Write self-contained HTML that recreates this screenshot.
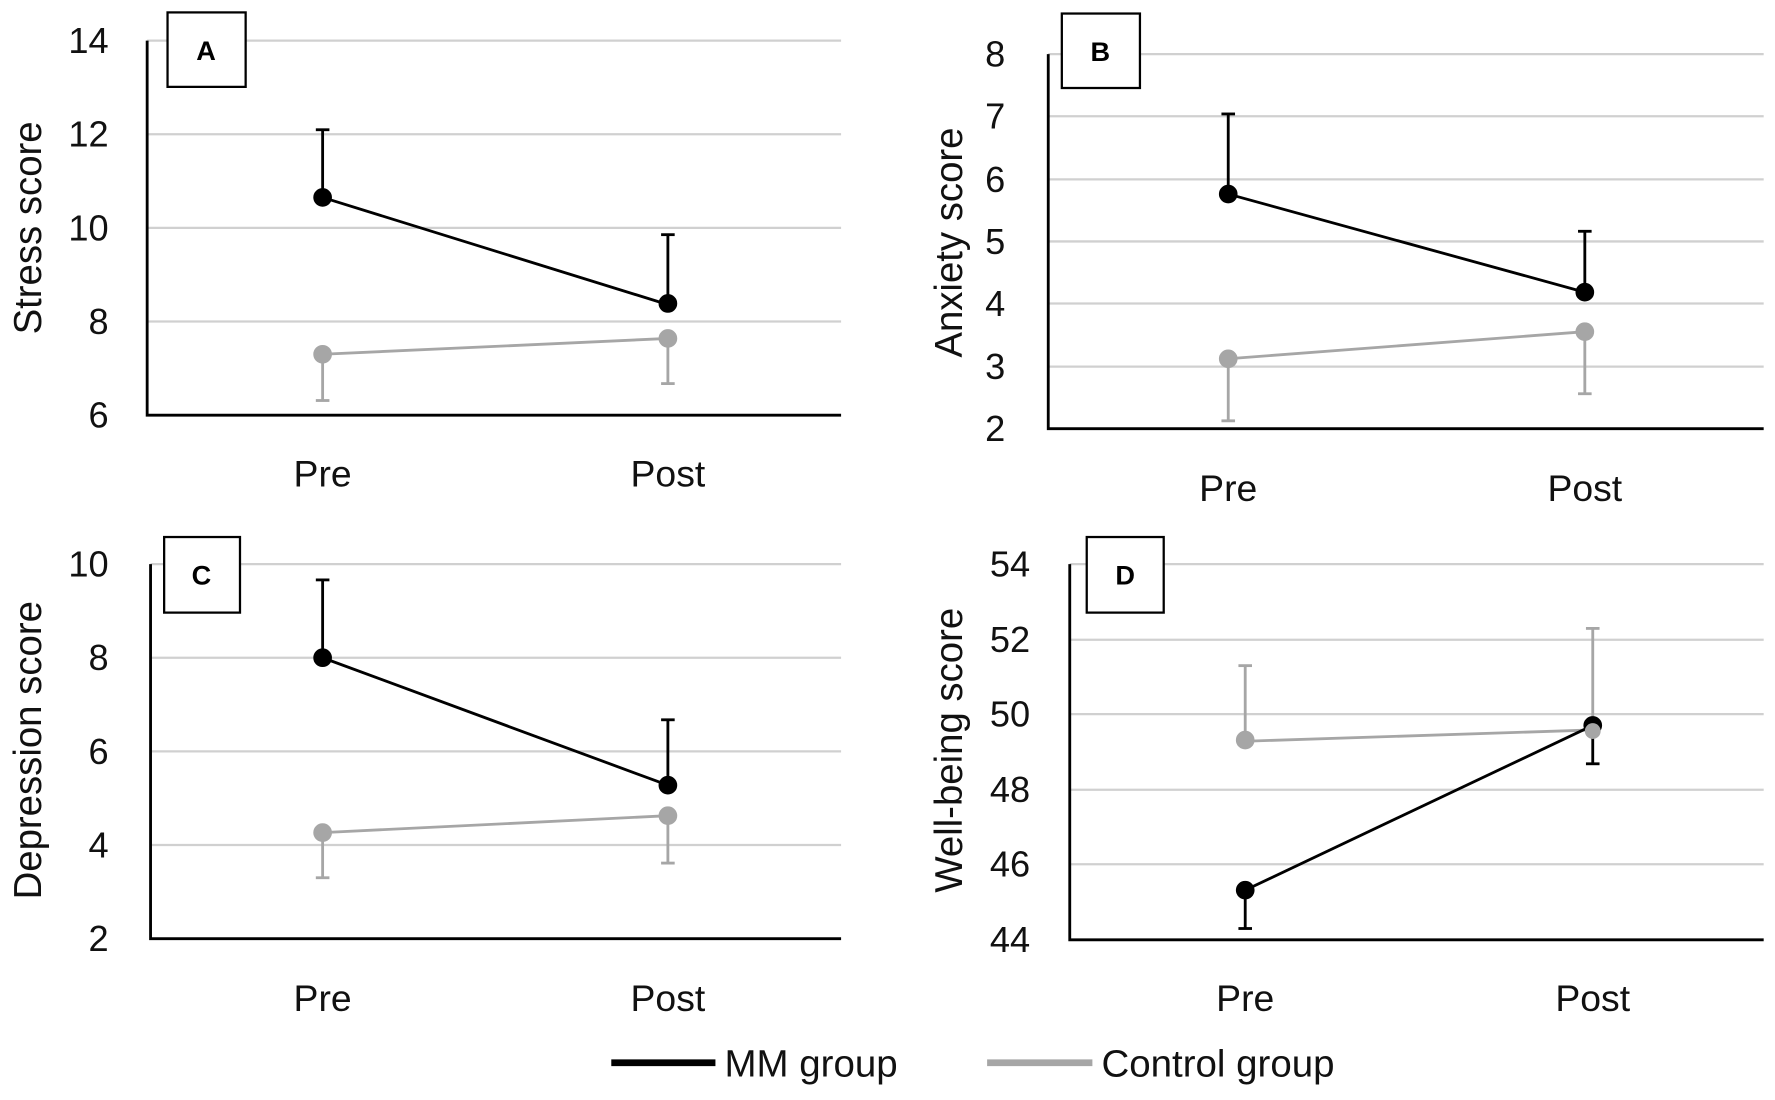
<!DOCTYPE html>
<html><head><meta charset="utf-8"><style>html,body{margin:0;padding:0;background:#fff}svg{display:block}</style></head>
<body>
<svg width="1775" height="1100" viewBox="0 0 1568 975" preserveAspectRatio="none" xmlns="http://www.w3.org/2000/svg" font-family="'Liberation Sans', sans-serif">
<rect width="1568" height="975" fill="#fff"/>
<g stroke="#d0d0d0" stroke-width="2">
<line x1="130" x2="743" y1="36" y2="36"/><line x1="130" x2="743" y1="119" y2="119"/><line x1="130" x2="743" y1="202" y2="202"/><line x1="130" x2="743" y1="285" y2="285"/>
<line x1="926" x2="1558" y1="48" y2="48"/><line x1="926" x2="1558" y1="103" y2="103"/><line x1="926" x2="1558" y1="159" y2="159"/><line x1="926" x2="1558" y1="214" y2="214"/><line x1="926" x2="1558" y1="269" y2="269"/><line x1="926" x2="1558" y1="325" y2="325"/>
<line x1="133" x2="743" y1="500" y2="500"/><line x1="133" x2="743" y1="583" y2="583"/><line x1="133" x2="743" y1="666" y2="666"/><line x1="133" x2="743" y1="749" y2="749"/>
<line x1="945" x2="1558" y1="500" y2="500"/><line x1="945" x2="1558" y1="567" y2="567"/><line x1="945" x2="1558" y1="633" y2="633"/><line x1="945" x2="1558" y1="700" y2="700"/><line x1="945" x2="1558" y1="766" y2="766"/>
</g>
<g stroke="#000" stroke-width="2.5" fill="none">
<polyline points="130,36 130,368 743,368"/>
<polyline points="926,48 926,380 1558,380"/>
<polyline points="133,500 133,832 743,832"/>
<polyline points="945,500 945,833 1558,833"/>
</g>
<g fill="#fff" stroke="#000" stroke-width="2">
<rect x="148" y="11" width="69" height="66"/><rect x="938" y="12" width="69" height="66"/>
<rect x="145" y="476" width="67" height="67"/><rect x="960" y="476" width="68" height="67"/>
</g>
<g font-weight="bold" font-size="24" text-anchor="middle">
<text x="182" y="53">A</text><text x="972" y="54">B</text><text x="178" y="518">C</text><text x="994" y="518">D</text>
</g>
<g font-size="32" text-anchor="end" fill="#111">
<text x="96" y="47">14</text><text x="96" y="130">12</text><text x="96" y="213">10</text><text x="96" y="296">8</text><text x="96" y="379">6</text>
<text x="888" y="59">8</text><text x="888" y="114">7</text><text x="888" y="170">6</text><text x="888" y="225">5</text><text x="888" y="280">4</text><text x="888" y="336">3</text><text x="888" y="391">2</text>
<text x="96" y="511">10</text><text x="96" y="594">8</text><text x="96" y="677">6</text><text x="96" y="760">4</text><text x="96" y="843">2</text>
<text x="910" y="511">54</text><text x="910" y="578">52</text><text x="910" y="644">50</text><text x="910" y="711">48</text><text x="910" y="777">46</text><text x="910" y="844">44</text>
</g>
<g font-size="33" text-anchor="middle" fill="#111">
<text x="285" y="431">Pre</text><text x="590" y="431">Post</text>
<text x="1085" y="444">Pre</text><text x="1400" y="444">Post</text>
<text x="285" y="896">Pre</text><text x="590" y="896">Post</text>
<text x="1100" y="896">Pre</text><text x="1407" y="896">Post</text>
</g>
<g font-size="34" text-anchor="middle" fill="#111">
<text transform="translate(36,202) rotate(-90)">Stress score</text>
<text transform="translate(850,215) rotate(-90)">Anxiety score</text>
<text transform="translate(36,665) rotate(-90)">Depression score</text>
<text transform="translate(850,665) rotate(-90)">Well-being score</text>
</g>
<g stroke="#a6a6a6" stroke-width="2.5" fill="#a6a6a6">
<line x1="285" y1="314" x2="590" y2="300"/><line x1="285" y1="314" x2="285" y2="355"/><line x1="279" y1="355" x2="291" y2="355"/><line x1="590" y1="300" x2="590" y2="340"/><line x1="584" y1="340" x2="596" y2="340"/>
<circle cx="285" cy="314" r="7"/><circle cx="590" cy="300" r="7"/>
<line x1="1085" y1="318" x2="1400" y2="294"/><line x1="1085" y1="318" x2="1085" y2="373"/><line x1="1079" y1="373" x2="1091" y2="373"/><line x1="1400" y1="294" x2="1400" y2="349"/><line x1="1394" y1="349" x2="1406" y2="349"/>
<circle cx="1085" cy="318" r="7"/><circle cx="1400" cy="294" r="7"/>
<line x1="285" y1="738" x2="590" y2="723"/><line x1="285" y1="738" x2="285" y2="778"/><line x1="279" y1="778" x2="291" y2="778"/><line x1="590" y1="723" x2="590" y2="765"/><line x1="584" y1="765" x2="596" y2="765"/>
<circle cx="285" cy="738" r="7"/><circle cx="590" cy="723" r="7"/>
<line x1="1100" y1="657" x2="1407" y2="647"/><line x1="1100" y1="657" x2="1100" y2="590"/><line x1="1094" y1="590" x2="1106" y2="590"/><line x1="1407" y1="647" x2="1407" y2="557"/><line x1="1401" y1="557" x2="1413" y2="557"/>
<circle cx="1100" cy="656" r="7"/>
</g>
<g stroke="#000" stroke-width="2.5" fill="#000">
<line x1="285" y1="175" x2="590" y2="270"/><line x1="285" y1="175" x2="285" y2="115"/><line x1="279" y1="115" x2="291" y2="115"/><line x1="590" y1="270" x2="590" y2="208"/><line x1="584" y1="208" x2="596" y2="208"/>
<circle cx="285" cy="175" r="7"/><circle cx="590" cy="269" r="7"/>
<line x1="1085" y1="172" x2="1400" y2="259"/><line x1="1085" y1="172" x2="1085" y2="101"/><line x1="1079" y1="101" x2="1091" y2="101"/><line x1="1400" y1="259" x2="1400" y2="205"/><line x1="1394" y1="205" x2="1406" y2="205"/>
<circle cx="1085" cy="172" r="7"/><circle cx="1400" cy="259" r="7"/>
<line x1="285" y1="583" x2="590" y2="696"/><line x1="285" y1="583" x2="285" y2="514"/><line x1="279" y1="514" x2="291" y2="514"/><line x1="590" y1="696" x2="590" y2="638"/><line x1="584" y1="638" x2="596" y2="638"/>
<circle cx="285" cy="583" r="7"/><circle cx="590" cy="696" r="7"/>
<line x1="1100" y1="789" x2="1407" y2="643"/><line x1="1100" y1="789" x2="1100" y2="823"/><line x1="1094" y1="823" x2="1106" y2="823"/><line x1="1407" y1="643" x2="1407" y2="677"/><line x1="1401" y1="677" x2="1413" y2="677"/>
<circle cx="1100" cy="789" r="7"/><circle cx="1407" cy="643" r="7"/>
</g>
<circle cx="1407" cy="648" r="7" fill="#a6a6a6"/>
<line x1="540" y1="942" x2="632" y2="942" stroke="#000" stroke-width="6"/>
<text x="640" y="954" font-size="34" fill="#111">MM group</text>
<line x1="872" y1="942" x2="965" y2="942" stroke="#a6a6a6" stroke-width="6"/>
<text x="973" y="954" font-size="34" fill="#111">Control group</text>
</svg>
</body></html>
